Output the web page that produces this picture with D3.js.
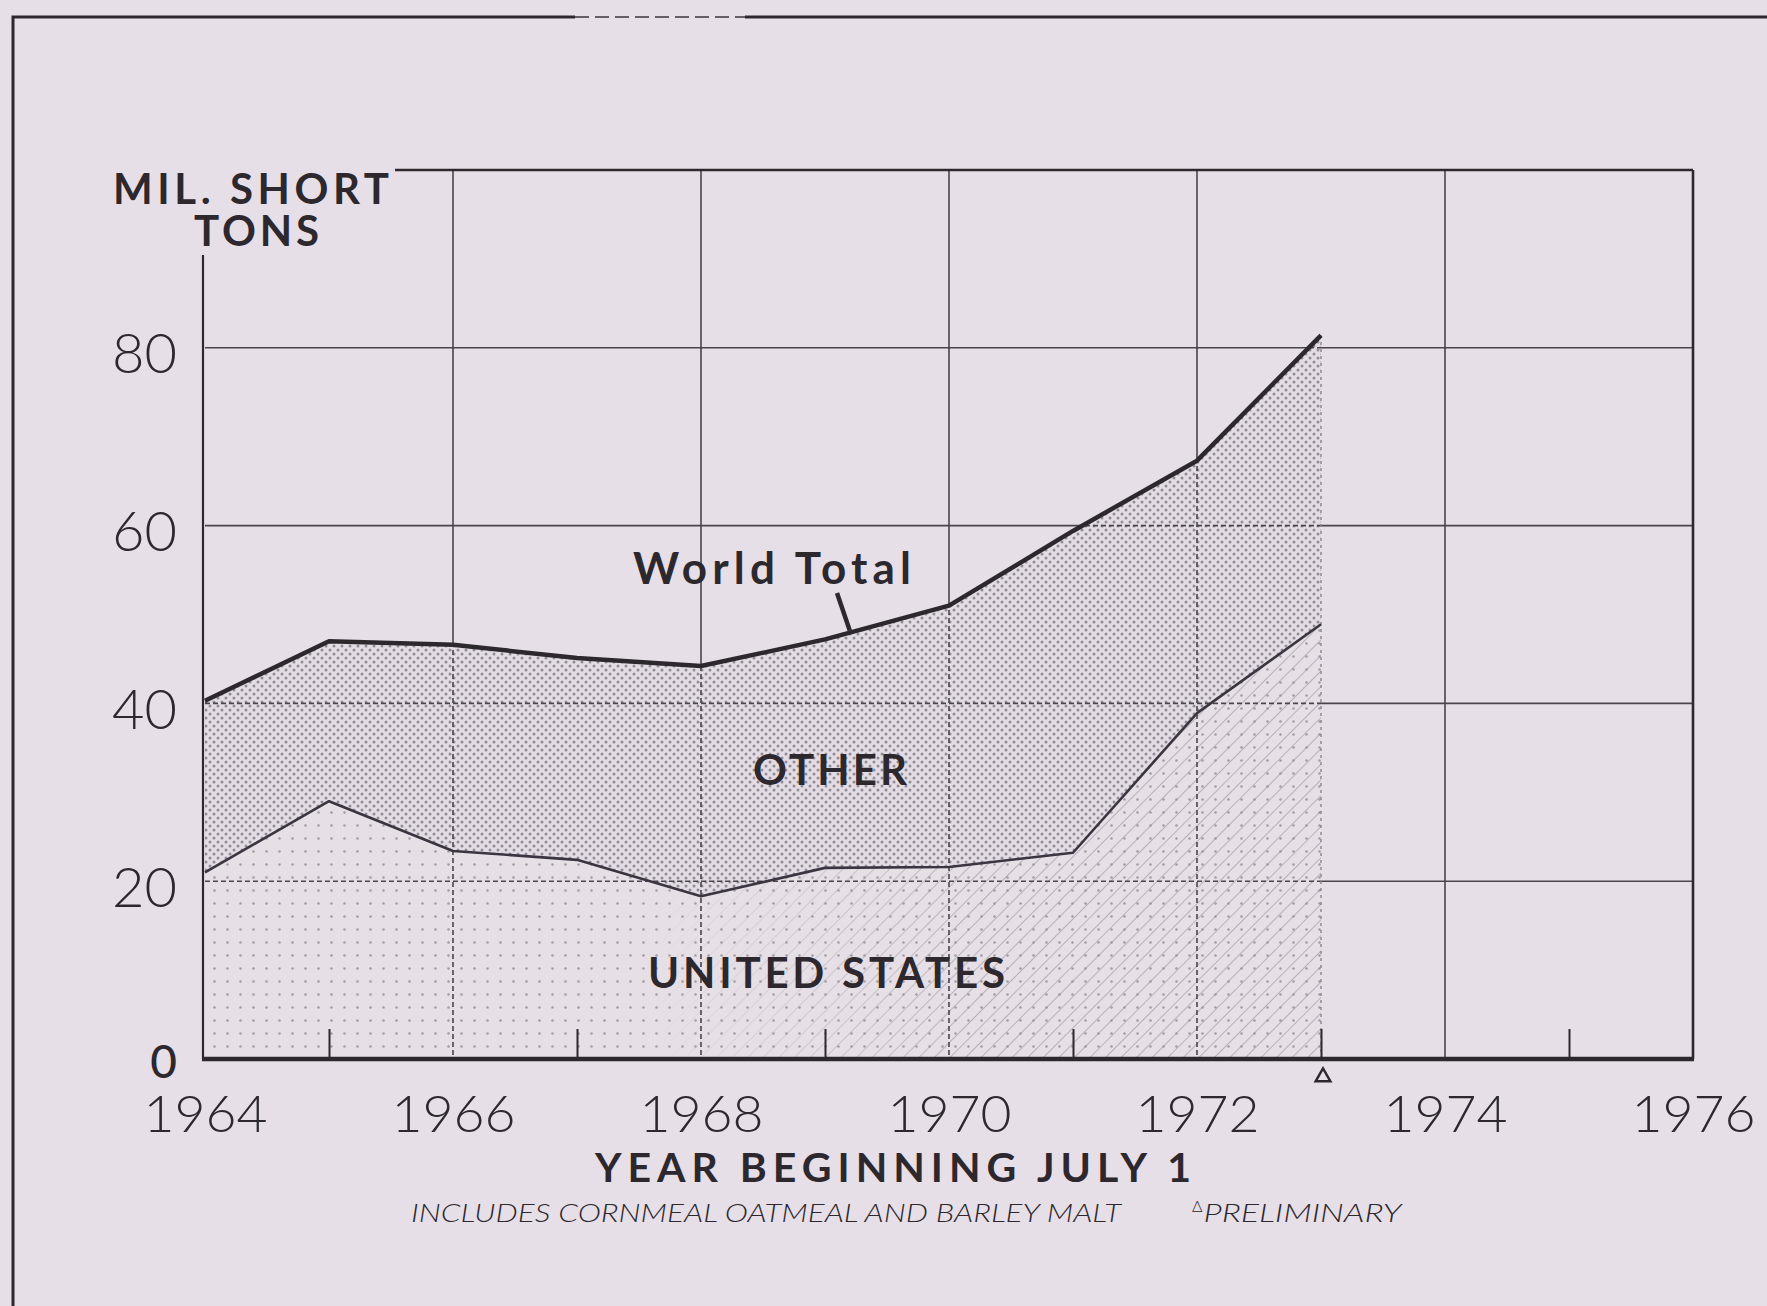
<!DOCTYPE html>
<html><head><meta charset="utf-8">
<script src="https://cdn.jsdelivr.net/npm/d3@7"></script>
<style>
html,body{margin:0;padding:0;background:#e7dfe7;}
svg{display:block;}
text{font-family:Lato,"Open Sans","DejaVu Sans",sans-serif;fill:#2c282e;}
</style></head><body>
<svg id="chart" width="1767" height="1306"></svg>
<script>
// ---- data ----
const years = [1964,1965,1966,1967,1968,1969,1970,1971,1972,1973];
const unitedStates = [21.0,29.0,23.4,22.4,18.3,21.5,21.6,23.2,38.9,48.9];
const worldTotal   = [40.3,47.0,46.6,45.1,44.2,47.2,51.0,59.4,67.3,81.4];
const yTickValues = [0,20,40,60,80];
const yTickLabels = ["0","20","40","60","80"];
const xTickValues = [1964,1966,1968,1970,1972,1974,1976];
const xTickLabels = ["1964","1966","1968","1970","1972","1974","1976"];
const minorTickYears = [1965,1967,1969,1971,1973,1975];
const preliminaryYear = 1973;

const W = 1767, H = 1306;
const svg = d3.select("#chart");
const x = d3.scaleLinear().domain([1964,1976]).range([205,1693]);
const y = d3.scaleLinear().domain([0,100]).range([1059,170]);
const ink = "#2c282e", bg = "#e7dfe7";

svg.append("rect").attr("width",W).attr("height",H).attr("fill",bg);

// defs: patterns + clips
const defs = svg.append("defs");
const pOther = defs.append("pattern").attr("id","otherDots").attr("patternUnits","userSpaceOnUse").attr("width",8).attr("height",8);
pOther.append("rect").attr("width",8).attr("height",8).attr("fill","#e3dce4");
pOther.append("circle").attr("cx",2).attr("cy",2).attr("r",1.5).attr("fill","#928c95");
pOther.append("circle").attr("cx",6).attr("cy",6).attr("r",1.5).attr("fill","#928c95");
const pUS = defs.append("pattern").attr("id","usDots").attr("patternUnits","userSpaceOnUse").attr("width",13).attr("height",13);
pUS.append("rect").attr("width",13).attr("height",13).attr("fill","#e6dfe6");
pUS.append("circle").attr("cx",6.5).attr("cy",6.5).attr("r",1.3).attr("fill","#a29ca5");
const pH = defs.append("pattern").attr("id","hatch").attr("patternUnits","userSpaceOnUse").attr("width",11).attr("height",11).attr("patternTransform","rotate(45)");
pH.append("line").attr("x1",0).attr("y1",0).attr("x2",0).attr("y2",11).attr("stroke","#9c96a0").attr("stroke-width",1.3);

const grad = defs.append("linearGradient").attr("id","hatchFade").attr("gradientUnits","userSpaceOnUse")
  .attr("x1",x(1967.6)).attr("x2",x(1970.2)).attr("y1",0).attr("y2",0);
grad.append("stop").attr("offset",0).attr("stop-color","#fff").attr("stop-opacity",0);
grad.append("stop").attr("offset",1).attr("stop-color","#fff").attr("stop-opacity",1);
defs.append("mask").attr("id","hatchMask").attr("maskUnits","userSpaceOnUse")
  .attr("x",0).attr("y",0).attr("width",W).attr("height",H)
  .append("rect").attr("width",W).attr("height",H).attr("fill","url(#hatchFade)");

const rows = years.map((yr,i)=>({yr, us:unitedStates[i], tot:worldTotal[i]}));
const areaTotal = d3.area().x(d=>x(d.yr)).y0(y(0)).y1(d=>y(d.tot));
const areaUS = d3.area().x(d=>x(d.yr)).y0(y(0)).y1(d=>y(d.us));
const areaOther = d3.area().x(d=>x(d.yr)).y0(d=>y(d.us)).y1(d=>y(d.tot));
const line = d3.line().x(d=>x(d[0])).y(d=>y(d[1]));

defs.append("clipPath").attr("id","totClip").append("path").attr("d",areaTotal(rows));

// outer frame
const frame = svg.append("g").attr("stroke",ink).attr("fill","none").attr("stroke-width",3);
frame.append("path").attr("d",`M13,${H} V17 H575`);
frame.append("path").attr("d",`M575,17 H745`).attr("stroke-dasharray","14,6").attr("stroke-width",2.2).attr("opacity",0.7);
frame.append("path").attr("d",`M745,17 H${W}`);

// solid grid
const grid = svg.append("g").attr("stroke","#4a454c").attr("stroke-width",1.6);
grid.selectAll("line.v").data(xTickValues.slice(1,-1)).join("line")
  .attr("x1",d=>x(d)).attr("x2",d=>x(d)).attr("y1",y(100)).attr("y2",y(0));
grid.selectAll("line.h").data(yTickValues.slice(1)).join("line")
  .attr("x1",x(1964)).attr("x2",x(1976)).attr("y1",d=>y(d)).attr("y2",d=>y(d));

// areas
svg.append("path").attr("d",areaUS(rows)).attr("fill","url(#usDots)");
svg.append("path").attr("d",areaUS(rows)).attr("fill","url(#hatch)").attr("mask","url(#hatchMask)");
svg.append("path").attr("d",areaOther(rows)).attr("fill","url(#otherDots)");

// dashed grid inside shading
const dgrid = svg.append("g").attr("clip-path","url(#totClip)").attr("stroke","#4a454c").attr("stroke-width",1.6).attr("stroke-dasharray","5,3");
dgrid.selectAll("line.v").data(xTickValues.slice(1,-1)).join("line")
  .attr("x1",d=>x(d)).attr("x2",d=>x(d)).attr("y1",y(100)).attr("y2",y(0));
dgrid.selectAll("line.h").data(yTickValues.slice(1)).join("line")
  .attr("x1",x(1964)).attr("x2",x(1976)).attr("y1",d=>y(d)).attr("y2",d=>y(d));
// dotted right edge of shading
svg.append("line").attr("x1",x(preliminaryYear)).attr("x2",x(preliminaryYear))
  .attr("y1",y(0)).attr("y2",y(worldTotal[worldTotal.length-1]))
  .attr("stroke","#8a848d").attr("stroke-width",1.4).attr("stroke-dasharray","3,4");

// series lines
svg.append("path").attr("d",line(years.map((yr,i)=>[yr,unitedStates[i]])))
  .attr("fill","none").attr("stroke","#3a3540").attr("stroke-width",2.6).attr("stroke-linejoin","round");
svg.append("path").attr("d",line(years.map((yr,i)=>[yr,worldTotal[i]])))
  .attr("fill","none").attr("stroke",ink).attr("stroke-width",4.5).attr("stroke-linejoin","round");

// frame of plot
const fr = svg.append("g").attr("stroke",ink).attr("fill","none");
fr.append("line").attr("x1",x(1964)-2).attr("x2",x(1964)-2).attr("y1",255).attr("y2",y(0)).attr("stroke-width",2.2);
fr.append("line").attr("x1",395).attr("x2",x(1976)).attr("y1",y(100)).attr("y2",y(100)).attr("stroke-width",2.6);
fr.append("line").attr("x1",x(1976)).attr("x2",x(1976)).attr("y1",y(100)).attr("y2",y(0)).attr("stroke-width",2.6);
fr.append("line").attr("x1",x(1964)-3).attr("x2",x(1976)+1).attr("y1",y(0)).attr("y2",y(0)).attr("stroke-width",4.5);

// minor ticks (axis)
const minorAxis = svg.append("g").attr("transform",`translate(0,${y(0)})`)
  .call(d3.axisBottom(x).tickValues(minorTickYears).tickSize(-30).tickFormat(""));
minorAxis.select(".domain").remove();
minorAxis.selectAll("line").attr("stroke",ink).attr("stroke-width",2);

// x axis labels
const xAxis = svg.append("g").attr("transform",`translate(0,${y(0)})`)
  .call(d3.axisBottom(x).tickValues(xTickValues).tickSize(0).tickFormat((d,i)=>xTickLabels[i]));
xAxis.select(".domain").remove();
xAxis.selectAll("text").attr("y",73).attr("dy",0)
  .style("font-family","Lato, 'Open Sans', sans-serif").style("font-size","52px").style("font-weight",300)
  .attr("fill","#2e2a30").attr("textLength",124).attr("lengthAdjust","spacingAndGlyphs");

// y axis labels
const yAxis = svg.append("g").attr("transform",`translate(${x(1964)},0)`)
  .call(d3.axisLeft(y).tickValues(yTickValues).tickSize(0).tickFormat((d,i)=>yTickLabels[i]));
yAxis.select(".domain").remove();
yAxis.selectAll("text").attr("x",-28).attr("y",d=>d===0?18:25).attr("dy",0)
  .style("font-family","Lato, 'Open Sans', sans-serif").style("font-size",d=>d===0?"46px":"56px")
  .style("font-weight",d=>d===0?500:300).attr("fill","#2e2a30");

// preliminary marker
svg.append("path").attr("d",d3.symbol(d3.symbolTriangle,95)())
  .attr("transform",`translate(${x(preliminaryYear)+2},${y(0)+18})`)
  .attr("fill","none").attr("stroke",ink).attr("stroke-width",2.4);

// text labels
function label(t, xx, yy, size, weight, len, anchor){
  return svg.append("text").attr("x",xx).attr("y",yy).attr("text-anchor",anchor||"start")
    .style("font-size",size+"px").style("font-weight",weight)
    .attr("textLength",len).attr("lengthAdjust","spacing").text(t);
}
// y-axis title as one two-line text
const yt = svg.append("text").style("font-size","42px").style("font-weight",700);
yt.append("tspan").attr("x",113).attr("y",204).attr("textLength",276).attr("lengthAdjust","spacing").text("MIL. SHORT");
yt.append("tspan").attr("x",194).attr("y",246).attr("textLength",125).attr("lengthAdjust","spacing").text("TONS");

label("World Total",633,584,44,700,278);
label("OTHER",753,785,42,700,154);
label("UNITED STATES",648,988,42,700,357);
label("YEAR BEGINNING JULY 1",595,1182,41,700,596);

// leader for World Total
const lx = 1969.2;
const ly = d3.interpolateNumber(worldTotal[5],worldTotal[6])((lx-1969));
svg.append("line").attr("x1",837).attr("y1",593).attr("x2",x(lx)).attr("y2",y(ly)-2)
  .attr("stroke",ink).attr("stroke-width",4.5);

// footnote
svg.append("text").attr("x",411).attr("y",1222).style("font-size","25px").style("font-style","italic")
  .style("font-weight",300).attr("fill","#6d6870").attr("textLength",710).attr("lengthAdjust","spacingAndGlyphs")
  .text("INCLUDES CORNMEAL OATMEAL AND BARLEY MALT");
const fn2 = svg.append("text").attr("x",1192).attr("y",1222).style("font-size","25px").style("font-style","italic")
  .style("font-weight",300).attr("fill","#6d6870");
fn2.append("tspan").attr("dy",-10).style("font-size","16px").style("font-style","normal").text("Δ");
fn2.append("tspan").attr("dy",10).attr("dx",1).attr("textLength",198).attr("lengthAdjust","spacingAndGlyphs").text("PRELIMINARY");
</script>
</body></html>
